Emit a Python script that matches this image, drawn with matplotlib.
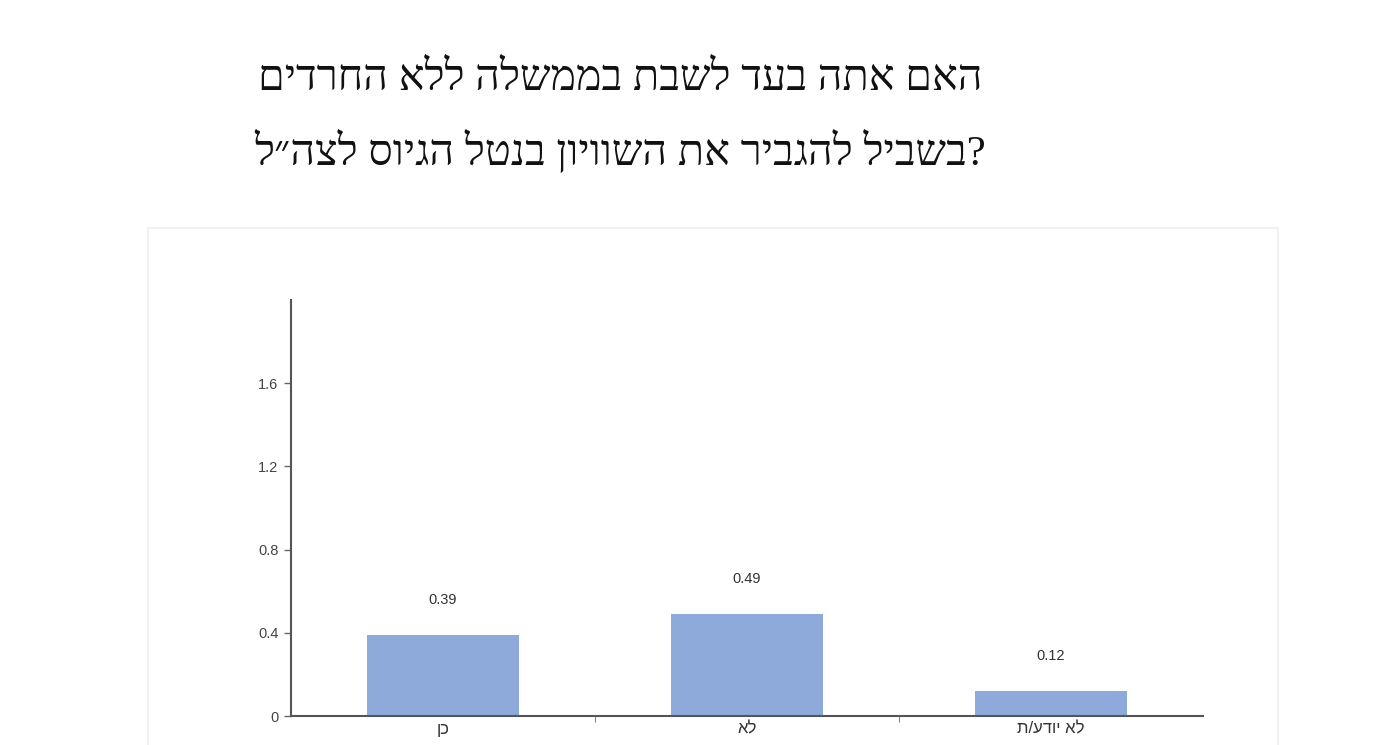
import matplotlib
matplotlib.use("Agg")
import matplotlib.pyplot as plt
from matplotlib.patches import Rectangle


def rtl(s):
    # matplotlib has no bidi support: put Hebrew in visual order
    return s[::-1]


title_lines = ["האם אתה בעד לשבת בממשלה ללא החרדים",
               "?בשביל להגביר את השוויון בנטל הגיוס לצה״ל"]
categories = ["כן", "לא", "לא יודע/ת"]
values = [0.39, 0.49, 0.12]
yticks = [0, 0.4, 0.8, 1.2, 1.6]
ytick_labels = ["0", "0.4", "0.8", "1.2", "1.6"]

plt.rcParams['font.family'] = ['Liberation Sans', 'DejaVu Sans']

fig = plt.figure(figsize=(14, 7.45), dpi=100)

# faint frame round the chart area
fig.patches.append(Rectangle((148 / 1400, -0.05), (1278 - 148) / 1400, 1 - 228 / 745 + 0.05,
                             transform=fig.transFigure, fill=False,
                             edgecolor="#f1f1f1", linewidth=1.5))

for i, line in enumerate(title_lines):
    fig.text(620 / 1400, 1 - (80 + 72 * i) / 745, rtl(line), ha="center", va="center",
             fontsize=31, color="#111111",
             family=['Liberation Serif', 'DejaVu Serif', 'DejaVu Sans'])

ax = fig.add_axes([291 / 1400, 1 - 716 / 745, (1203 - 291) / 1400, (716 - 300) / 745])
x = range(len(categories))
bars = ax.bar(x, values, width=0.5, color="#8eaadb", zorder=2)

for xi, v in zip(x, values):
    ax.annotate(f"{v:.2f}", (xi, v), xytext=(0, 25), textcoords="offset points",
                ha="center", va="center", fontsize=10.5, color="#333333")

ax.set_xlim(-0.5, 2.5)
ax.set_ylim(0, 2.0)
ax.set_yticks(yticks)
ax.set_yticklabels(ytick_labels, fontsize=10.5, color="#444444")
ax.set_xticks(list(x))
ax.set_xticklabels([rtl(c) for c in categories], fontsize=12, color="#333333")
ax.tick_params(axis="x", length=0, pad=4)
ax.set_xticks([0.5, 1.5], minor=True)
ax.tick_params(axis="x", which="minor", length=4, color="#666666", direction="out")
ax.tick_params(axis="y", length=5, color="#666666", width=1, pad=4)

for side in ["top", "right"]:
    ax.spines[side].set_visible(False)
for side in ["left", "bottom"]:
    ax.spines[side].set_color("#555555")
    ax.spines[side].set_linewidth(1.5)

plt.savefig("out.png", dpi=100)
plt.close()
